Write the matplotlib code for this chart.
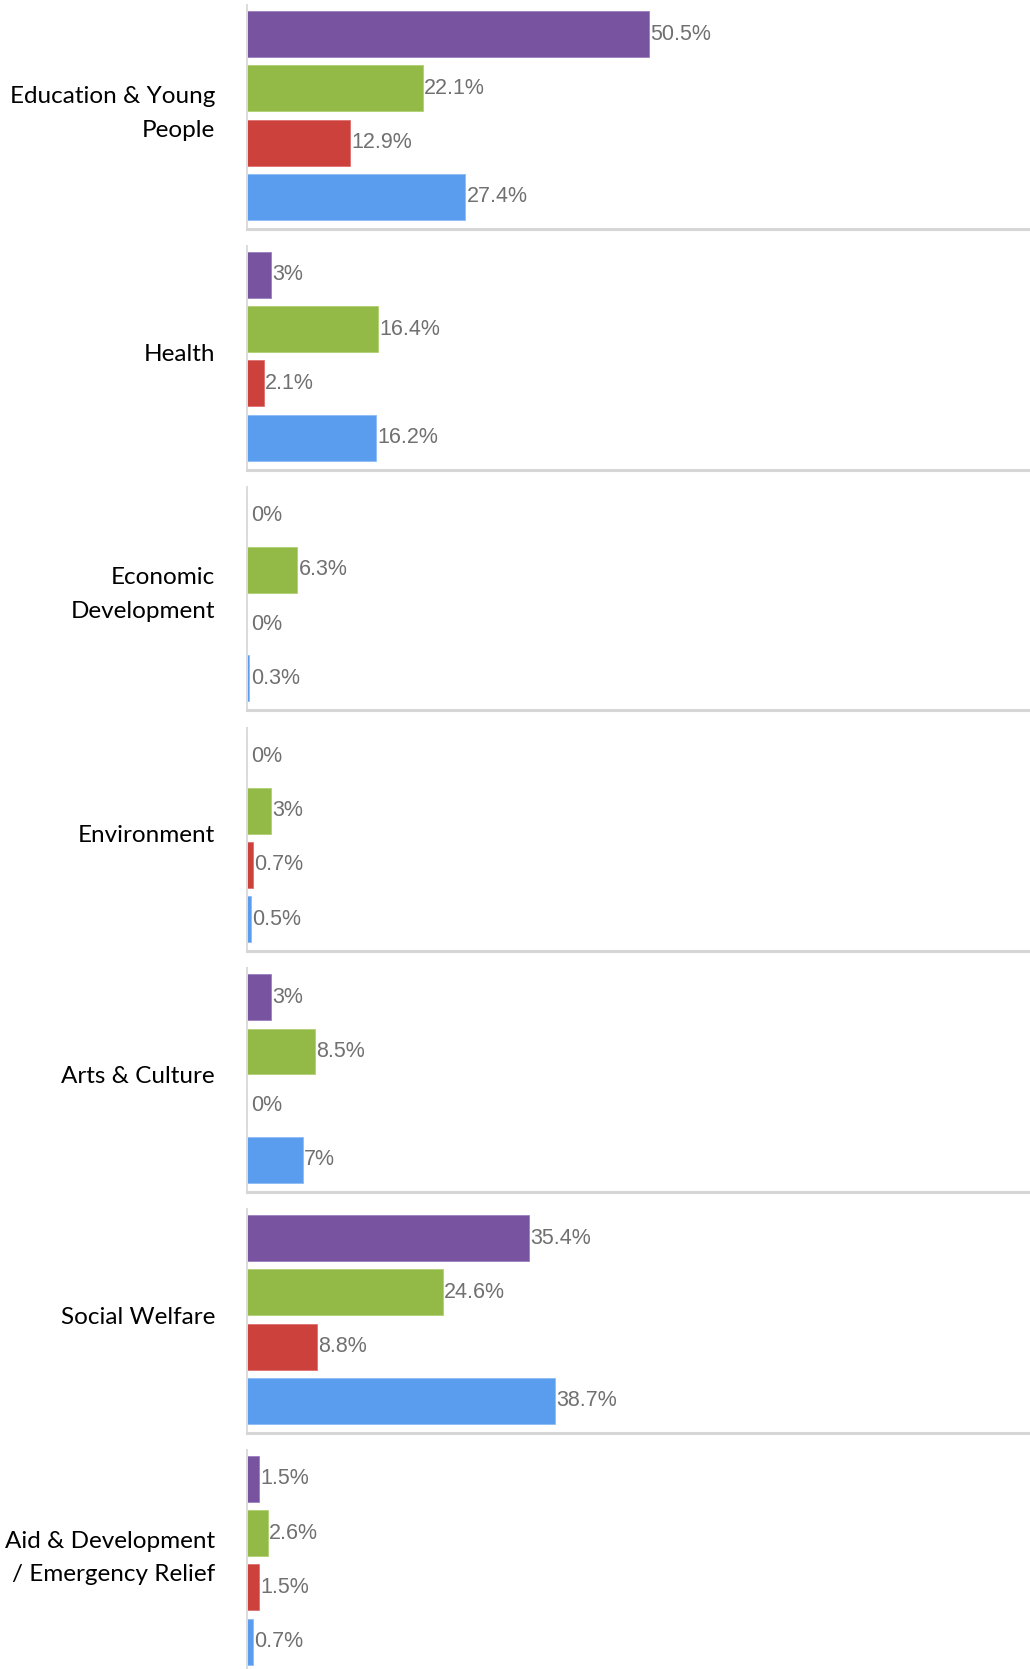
import matplotlib
matplotlib.use("Agg")
import matplotlib.pyplot as plt
from matplotlib.transforms import blended_transform_factory

# Data
categories = ["Education & Young\nPeople", "Health", "Economic\nDevelopment",
              "Environment", "Arts & Culture", "Social Welfare",
              "Aid & Development\n/ Emergency Relief"]
series_a = [50.5, 3, 0, 0, 3, 35.4, 1.5]     # purple
series_b = [22.1, 16.4, 6.3, 3, 8.5, 24.6, 2.6]  # green
series_c = [12.9, 2.1, 0, 0.7, 0, 8.8, 1.5]   # red
series_d = [27.4, 16.2, 0.3, 0.5, 7, 38.7, 0.7]  # blue
colors = ["#7753A0", "#93BA47", "#CD413D", "#5A9DEE"]
edges = ["#9A80C0", "#B0D070", "#E07070", "#8CBCF5"]

W, H = 1030, 1669
fig = plt.figure(figsize=(W / 100, H / 100), dpi=100)

left_px = 247
pitch_px = 240.8
panel_h = 223.5
top0 = 5.3
xmax = (W - left_px) / 7.96

for k, cat in enumerate(categories):
    top = top0 + pitch_px * k
    ax = fig.add_axes([left_px / W, 1 - (top + panel_h) / H,
                       (W - left_px) / W, panel_h / H])
    vals = [series_a[k], series_b[k], series_c[k], series_d[k]]
    ax.barh(range(4), vals, height=0.847, color=colors,
            edgecolor=edges, linewidth=0.6)
    for i, v in enumerate(vals):
        off = 3 if v == 0 else 1
        ax.annotate(f"{v:g}%", (v, i), xytext=(off, 0),
                    textcoords="offset points", va="center", ha="left",
                    fontsize=15.5, color="#707070", family="Liberation Sans")
    ax.set_xlim(0, xmax)
    ax.set_ylim(3.59, -0.53)
    ax.set_xticks([])
    ax.set_yticks([])
    for s in ["top", "right"]:
        ax.spines[s].set_visible(False)
    ax.spines["left"].set_color("#dcdcdc")
    ax.spines["left"].set_linewidth(1.4)
    ax.spines["bottom"].set_color("#d6d6d6")
    ax.spines["bottom"].set_linewidth(2.2)
    tr = blended_transform_factory(ax.transAxes, ax.transData)
    ax.text(-32 / (W - left_px), 1.46, cat, transform=tr, ha="right",
            va="center", fontsize=17.5, family="Lato", color="black",
            linespacing=1.75, multialignment="right")

fig.savefig("out.png", dpi=100)
